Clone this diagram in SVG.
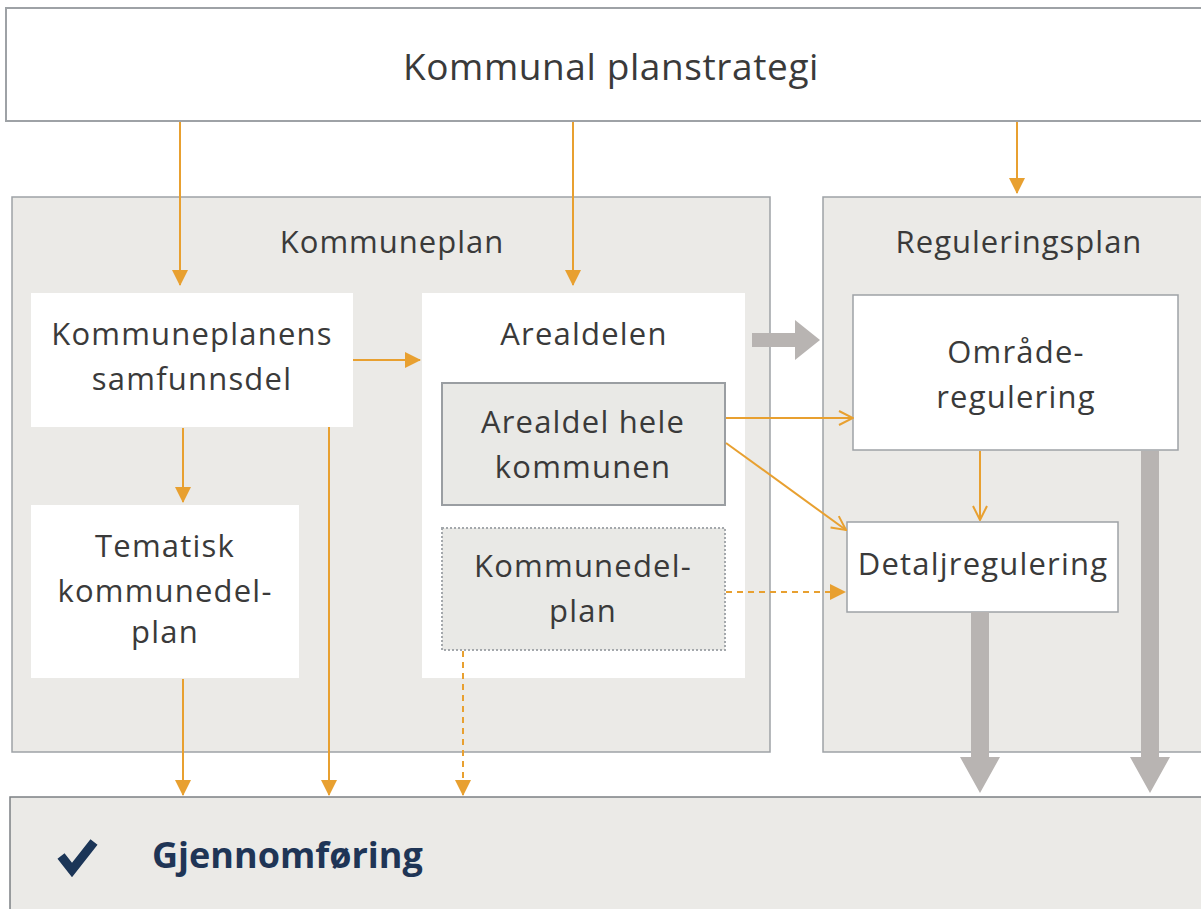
<svg xmlns="http://www.w3.org/2000/svg" width="1201" height="909" viewBox="0 0 1201 909">
<style>
.t{font-family:"Open Sans","Liberation Sans",sans-serif;fill:#3a3a3a;text-anchor:middle}
.n{font-size:31px;letter-spacing:1.2px}
.h{font-size:31px;letter-spacing:1px}
.grp{fill:#ebeae7;stroke:#9ea2a6;stroke-width:1.5}
.wht{fill:#ffffff}
.box{fill:#ffffff;stroke:#9ea2a6;stroke-width:1.5}
.inner{fill:#e9e9e6;stroke:#9a9ea2;stroke-width:2}
.dot{fill:#e9e9e6;stroke:#a4a8ac;stroke-width:2;stroke-dasharray:2 2}
.o{stroke:#e8a030;stroke-width:2;fill:none}
.od{stroke:#e8a030;stroke-width:2;fill:none;stroke-dasharray:6 5}
.g{fill:#b8b4b2}
</style>
<defs>
<marker id="af" viewBox="0 0 16 16" markerWidth="16" markerHeight="16" refX="15" refY="8" orient="auto" markerUnits="userSpaceOnUse">
<path d="M0,0 L16,8 L0,16 z" fill="#e8a030"/>
</marker>
<marker id="ao" viewBox="0 0 16 16" markerWidth="16" markerHeight="16" refX="15" refY="8" orient="auto" markerUnits="userSpaceOnUse">
<path d="M1,1 L15,8 L1,15" fill="none" stroke="#e8a030" stroke-width="2"/>
</marker>
</defs>
<rect width="1201" height="909" fill="#ffffff"/>

<g id="planstrategi">
<rect x="6" y="8" width="1200" height="113" fill="#ffffff" stroke="#9ea2a6" stroke-width="2"/>
<text class="t" x="611" y="80" font-size="37" letter-spacing="0.6">Kommunal planstrategi</text>
</g>

<g id="kommuneplan">
<rect class="grp" x="12" y="197" width="758" height="555"/>
<text class="t h" x="392" y="253">Kommuneplan</text>
</g>

<g id="reguleringsplan">
<rect class="grp" x="823" y="197" width="390" height="555"/>
<text class="t h" x="1019" y="253">Reguleringsplan</text>
</g>

<g id="gjennomforing">
<rect x="10" y="797" width="1200" height="120" fill="#ebeae7" stroke="#7c8084" stroke-width="1.5"/>
<path d="M61,856 L72,870 L94,842" fill="none" stroke="#1b3557" stroke-width="9" stroke-linejoin="miter"/>
<text x="152" y="868" font-family="'Open Sans','Liberation Sans',sans-serif" font-size="36" font-weight="bold" fill="#1f3556">Gjennomføring</text>
</g>

<g id="samfunnsdel">
<rect class="wht" x="31" y="293" width="322" height="134"/>
<text class="t n" x="192" y="345">Kommuneplanens</text>
<text class="t n" x="192" y="390">samfunnsdel</text>
</g>

<g id="tematisk">
<rect class="wht" x="31" y="505" width="268" height="173"/>
<text class="t n" x="165" y="557">Tematisk</text>
<text class="t n" x="165" y="602">kommunedel-</text>
<text class="t n" x="165" y="643">plan</text>
</g>

<g id="arealdelen">
<rect class="wht" x="422" y="293" width="323" height="385"/>
<text class="t n" x="584" y="345">Arealdelen</text>
</g>

<g id="arealdel-hele">
<rect class="inner" x="442" y="383" width="283" height="122"/>
<text class="t n" x="583" y="433">Arealdel hele</text>
<text class="t n" x="583" y="478">kommunen</text>
</g>

<g id="kommunedelplan">
<rect class="dot" x="442" y="528" width="283" height="122"/>
<text class="t n" x="583" y="577">Kommunedel-</text>
<text class="t n" x="583" y="622">plan</text>
</g>

<g id="omrade">
<rect class="box" x="853" y="295" width="325" height="155"/>
<text class="t n" x="1016" y="363">Område-</text>
<text class="t n" x="1016" y="408">regulering</text>
</g>

<g id="detalj">
<rect class="box" x="847" y="522" width="271" height="90"/>
<text class="t n" x="983" y="575">Detaljregulering</text>
</g>

<g id="connectors">
<line class="o" x1="180" y1="122" x2="180" y2="285" marker-end="url(#af)"/>
<line class="o" x1="573" y1="122" x2="573" y2="285" marker-end="url(#af)"/>
<line class="o" x1="1017" y1="122" x2="1017" y2="193" marker-end="url(#af)"/>
<line class="o" x1="183" y1="428" x2="183" y2="502" marker-end="url(#af)"/>
<line class="o" x1="353" y1="360" x2="420" y2="360" marker-end="url(#af)"/>
<line class="o" x1="183" y1="679" x2="183" y2="795" marker-end="url(#af)"/>
<line class="o" x1="329" y1="427" x2="329" y2="795" marker-end="url(#af)"/>
<line class="od" x1="463" y1="651" x2="463" y2="795" marker-end="url(#af)"/>
<line class="od" x1="726" y1="592" x2="845" y2="592" marker-end="url(#af)"/>
<line class="o" x1="726" y1="418" x2="853" y2="418" marker-end="url(#ao)"/>
<line class="o" x1="726" y1="443" x2="846" y2="530" marker-end="url(#ao)"/>
<line class="o" x1="980" y1="451" x2="980" y2="520" marker-end="url(#ao)"/>
<path class="g" d="M752,333 L795,333 L795,320 L820,340 L795,360 L795,347 L752,347 z"/>
<path class="g" d="M971,612 L989,612 L989,757 L1000,757 L980,793 L960,757 L971,757 z"/>
<path class="g" d="M1141,451 L1159,451 L1159,757 L1170,757 L1150,793 L1130,757 L1141,757 z"/>
</g>
</svg>
